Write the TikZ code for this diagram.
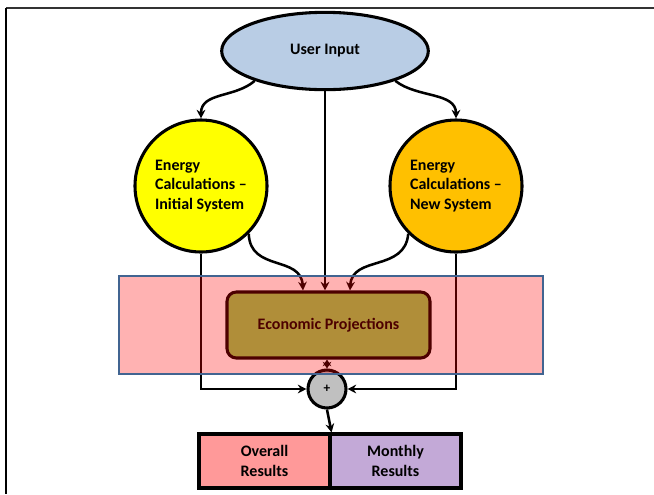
\documentclass[tikz,border=0pt]{standalone}
\usepackage{fontspec}
\setmainfont{Carlito}
\usetikzlibrary{shapes.geometric,arrows.meta,calc}
\definecolor{uifill}{RGB}{185,205,229}
\definecolor{yfill}{RGB}{255,255,0}
\definecolor{ofill}{RGB}{255,192,0}
\definecolor{econbase}{RGB}{142,204,83}
\definecolor{bandborder}{RGB}{65,100,145}
\definecolor{ovfill}{RGB}{255,153,153}
\definecolor{mofill}{RGB}{195,169,215}
\definecolor{plusfill}{RGB}{192,192,192}
\tikzset{
  lbl/.style={font=\fontsize{12}{14.5}\selectfont\bfseries},
  shapeline/.style={draw=black, line width=2.3pt},
  conn/.style={draw=black, line width=1.9pt, -{Stealth[length=6.5pt,width=6.5pt]}},
  bothconn/.style={draw=black, line width=1.9pt, {Stealth[length=5pt,width=6.5pt]}-{Stealth[length=5pt,width=6.5pt]}},
  bigcircle/.style={shapeline, circle, minimum size=99pt, inner sep=0pt, lbl, align=left},
  resbox/.style={shapeline, rectangle, minimum width=98.25pt, minimum height=40.5pt, inner sep=0pt, lbl, align=center},
}
\begin{document}
\begin{tikzpicture}[x=0.75pt,y=-0.75pt]
\useasboundingbox (0,0) rectangle (654,494);
% frame
\draw[line width=1.6pt, black!80] (6,8) -- (654,8);
\draw[line width=1.6pt, black] (6,8) -- (6,494);

% nodes
\node[shapeline, ellipse, fill=uifill, minimum width=155pt, minimum height=58pt, inner sep=0pt, lbl] (ui) at (325,51) {User Input};
\node[bigcircle, fill=yfill] (yl) at (201,186) {Energy\\Calculations --\\Initial System};
\node[bigcircle, fill=ofill] (ol) at (456,186) {Energy\\Calculations --\\New System};
\node[shapeline, rectangle, rounded corners=7pt, fill=econbase, minimum width=152.25pt, minimum height=49.5pt, inner sep=0pt, lbl] (econ) at (328.5,325) {Economic Projections};
\node[shapeline, circle, fill=plusfill, minimum size=28.5pt, inner sep=0pt, font=\fontsize{10}{11}\selectfont\bfseries] (plus) at (327,389) {+};
\node[resbox, fill=ovfill] (ov) at (264.5,461) {Overall\\Results};
\node[resbox, fill=mofill] (mo) at (395.5,461) {Monthly\\Results};

% connectors
\draw[conn] (ui.-157) .. controls (235,98) and (201,92) .. (yl.north);
\draw[conn] (ui.-23) .. controls (417,98) and (456,92) .. (ol.north);
\draw[conn] (ui.south) -- (ui.south |- econ.north);
\draw[conn] (yl.-45) .. controls (250,272) and (301,255) .. ($(econ.north)+(-25.5,0)$);
\draw[conn] (ol.-135) .. controls (405,272) and (352,255) .. ($(econ.north)+(21.5,0)$);
\draw[conn] (yl.south) |- (plus.west);
\draw[conn] (ol.south) |- (plus.east);
\draw[bothconn] (econ.south -| plus.north) -- (plus.north);
\draw[conn] (plus.south) -- (ov.north east);

% translucent band
\fill[red, opacity=0.3] (119,276) rectangle (543,374);
\draw[bandborder, line width=1.8pt] (119,276) rectangle (543,374);
\end{tikzpicture}
\end{document}
